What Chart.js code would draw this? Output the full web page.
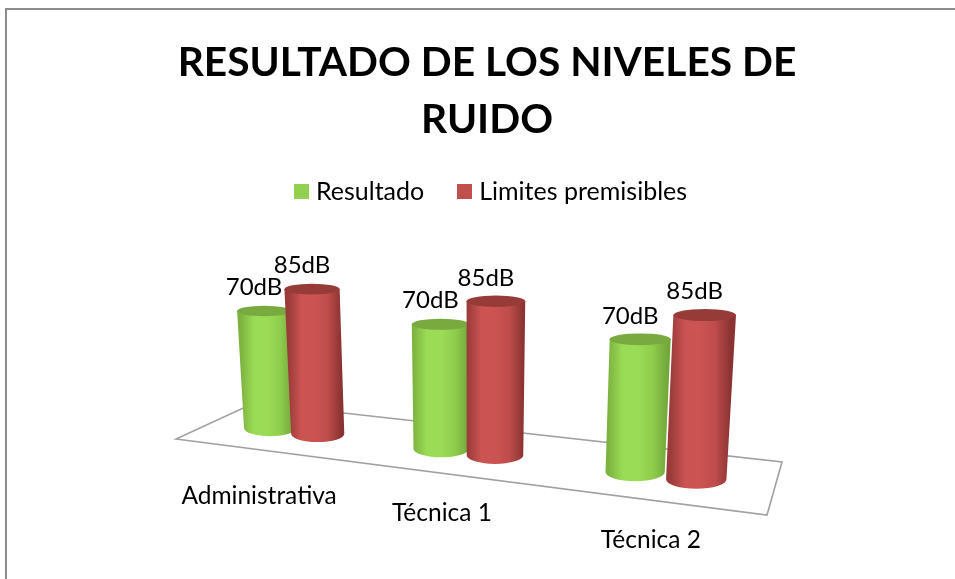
<!DOCTYPE html>
<html>
<head>
<meta charset="utf-8">
<title>Resultado de los niveles de ruido</title>
<script src="https://cdn.jsdelivr.net/npm/chart.js@4"></script>
<style>
  html, body { margin: 0; padding: 0; background: #fff; }
  #wrap { position: relative; width: 955px; height: 579px; overflow: hidden; }
  #frame { position: absolute; left: 5px; top: 8px; width: 960px; height: 600px; border-top: 2px solid #8c8c8c; border-left: 2px solid #8c8c8c; box-sizing: border-box; }
  canvas { position: absolute; left: 0; top: 0; }
</style>
</head>
<body>
<div id="wrap">
  <div id="frame"></div>
  <canvas id="noiseChart" width="955" height="579"></canvas>
</div>
<script>
const categories = ['Administrativa', 'Técnica 1', 'Técnica 2'];
const resultValues = [70, 70, 70];
const limitValues = [85, 85, 85];
const seriesNames = ['Resultado', 'Limites premisibles'];
const valueUnit = 'dB';

const FONT = 'Lato, "Open Sans", sans-serif';

// Floor of the 3D chart, as seen on the page
const floorQuad = { frontLeft: [176, 439], frontRight: [767, 515], backRight: [782, 462], backLeft: [254, 403] };
const BAR_DEPTH = 0.46;   // bars stand about half way into the floor
const LABEL_DROPS = [46, 40, 40]; // category names hang below the front edge
const HEIGHT_SCALE = 0.515;
const WIDTH_SCALE = 0.57;
const LEAN_CENTER = 470;  // verticals converge around here
const LEAN_PER_PX = 0.00013;

// Unit square -> quad homography
function makeProjection(q) {
  const [x0, y0] = q.frontLeft, [x1, y1] = q.frontRight, [x2, y2] = q.backRight, [x3, y3] = q.backLeft;
  const dx1 = x1 - x2, dy1 = y1 - y2, dx2 = x3 - x2, dy2 = y3 - y2;
  const sx = x0 - x1 + x2 - x3, sy = y0 - y1 + y2 - y3;
  const d = dx1 * dy2 - dy1 * dx2;
  const g = (sx * dy2 - sy * dx2) / d;
  const h = (dx1 * sy - dy1 * sx) / d;
  const a = x1 - x0 + g * x1, b = x3 - x0 + h * x3;
  const e = y1 - y0 + g * y1, f = y3 - y0 + h * y3;
  return (u, w) => {
    const den = g * u + h * w + 1;
    return { x: (a * u + b * w + x0) / den, y: (e * u + f * w + y0) / den, scale: 1 / den };
  };
}
const project = makeProjection(floorQuad);

function cylinderColors(index) {
  return index === 0
    ? { edgeL: '#7cb33f', mid: '#9bdc56', midR: '#8fcd4d', edgeR: '#72a83a', top: '#78aa40' }
    : { edgeL: '#9a3b3a', mid: '#cb5452', midR: '#bd4c4a', edgeR: '#8a3332', top: '#973b39' };
}

// Square legend swatch, so the box sits closer to its text than boxWidth allows
function legendSwatch(color) {
  const c = document.createElement('canvas');
  c.width = 15;
  c.height = 15;
  const g = c.getContext('2d');
  g.fillStyle = color;
  g.fillRect(0, 0, 15, 15);
  return c;
}

function drawCylinder(ctx, bar, area, colors) {
  const u = (bar.x - area.left) / area.width;
  const base = project(u, BAR_DEPTH);
  const rx = bar.width / 2 * WIDTH_SCALE * base.scale;
  const pxHeight = (bar.base - bar.y) * HEIGHT_SCALE * base.scale;
  const lean = 1 + LEAN_PER_PX * (bar.base - bar.y);
  const topX = LEAN_CENTER + (base.x - LEAN_CENTER) * lean;
  const topY = base.y - pxHeight;
  const topRx = rx * lean;
  const ryBottom = rx * 0.31, ryTop = rx * 0.2;

  const midY = (base.y + topY) / 2, midX = (base.x + topX) / 2;
  const grad = ctx.createLinearGradient(midX - rx, midY, midX + rx, midY);
  grad.addColorStop(0, colors.edgeL);
  grad.addColorStop(0.25, colors.mid);
  grad.addColorStop(0.5, colors.mid);
  grad.addColorStop(0.75, colors.midR);
  grad.addColorStop(1, colors.edgeR);

  ctx.beginPath();
  ctx.moveTo(topX - topRx, topY);
  ctx.lineTo(base.x - rx, base.y);
  ctx.ellipse(base.x, base.y, rx, ryBottom, 0, Math.PI, 0, true);
  ctx.lineTo(topX + topRx, topY);
  ctx.closePath();
  ctx.fillStyle = grad;
  ctx.fill();

  ctx.beginPath();
  ctx.ellipse(topX, topY, topRx, ryTop, 0, 0, Math.PI * 2);
  ctx.fillStyle = colors.top;
  ctx.fill();

  return { x: topX, y: topY };
}

const cylinderPlugin = {
  id: 'cylinders',
  afterLayout(chart) {
    // nudge the legend to where it sits in the original
    chart.legend.left += 6.25;
    chart.legend.right += 6.25;
    chart.legend.top -= 12;
    chart.legend.bottom -= 12;
  },
  beforeDatasetsDraw(chart) {
    const { ctx, chartArea: area } = chart;
    const q = floorQuad;
    ctx.save();
    ctx.beginPath();
    ctx.moveTo(...q.frontLeft);
    ctx.lineTo(...q.frontRight);
    ctx.lineTo(...q.backRight);
    ctx.lineTo(...q.backLeft);
    ctx.closePath();
    ctx.strokeStyle = '#a0a0a0';
    ctx.lineWidth = 1.6;
    ctx.stroke();

    const tops = [];
    chart.data.datasets.forEach((ds, i) => {
      chart.getDatasetMeta(i).data.forEach((bar, j) => {
        const top = drawCylinder(ctx, bar, area, cylinderColors(i));
        tops.push({ text: ds.data[j] + valueUnit, x: top.x, y: top.y });
      });
    });

    ctx.fillStyle = '#000';
    ctx.font = '24px ' + FONT;
    ctx.textAlign = 'center';
    ctx.textBaseline = 'middle';
    tops.forEach(t => ctx.fillText(t.text, t.x - 10, t.y - 23.5));

    const xScale = chart.scales.x;
    ctx.font = '24.5px ' + FONT;
    categories.forEach((name, i) => {
      const u = (xScale.getPixelForValue(i) - area.left) / area.width;
      const p = project(u, 0);
      ctx.fillText(name, p.x, p.y + LABEL_DROPS[i]);
    });
    ctx.restore();
    return false;
  }
};

new Chart(document.getElementById('noiseChart'), {
  type: 'bar',
  data: {
    labels: categories,
    datasets: [
      { label: seriesNames[0], data: resultValues, backgroundColor: '#92d050', borderWidth: 0, pointStyle: legendSwatch('#92d050') },
      { label: seriesNames[1], data: limitValues, backgroundColor: '#c0504d', borderWidth: 0, pointStyle: legendSwatch('#c0504d') }
    ]
  },
  options: {
    responsive: false,
    animation: false,
    categoryPercentage: 0.58,
    barPercentage: 1.05,
    layout: { padding: { left: 19, right: 0, top: 34, bottom: 16 } },
    scales: {
      x: { display: false },
      y: { display: false, min: 0, max: 100 }
    },
    plugins: {
      title: {
        display: true,
        text: ['RESULTADO DE LOS NIVELES DE', 'RUIDO'],
        color: '#000',
        font: { family: FONT, size: 40.7, weight: 'bold', lineHeight: 1.4 },
        padding: { top: 0, bottom: 5 }
      },
      legend: {
        position: 'top',
        labels: {
          color: '#000',
          font: { family: FONT, size: 25 },
          usePointStyle: true,
          boxWidth: 4,
          boxHeight: 15,
          padding: 38.5
        }
      },
      tooltip: { enabled: false }
    }
  },
  plugins: [cylinderPlugin]
});
</script>
</body>
</html>
